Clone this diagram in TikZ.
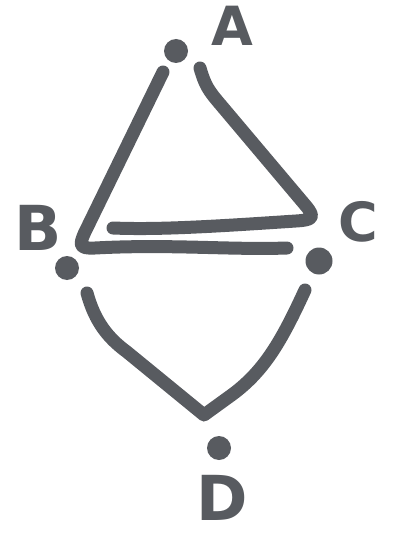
\documentclass[tikz,border=0pt]{standalone}
\usepackage{fontspec}
\setsansfont{DejaVu Sans}
\definecolor{ink}{RGB}{88,91,96}
\tikzstyle{pen} = [draw=ink, line width=13pt, line cap=round, line join=round]
\tikzstyle{blob} = [circle, fill=ink, inner sep=0pt, minimum size=24pt]
\tikzstyle{letter} = [text=ink, inner sep=0pt, font=\fontsize{54}{54}\selectfont\sffamily\bfseries]
\begin{document}
\begin{tikzpicture}[x=1pt, y=-1pt]
\useasboundingbox (0,0) rectangle (393,540);
%punten
\node[blob] (dotA) at (176,51) {};
\node[blob] (dotB) at (67,268) {};
\node[blob, minimum size=27pt] (dotC) at (319,261) {};
\node[blob] (dotD) at (219,448) {};
%letters
\node[letter] (labA) at (232,26) {A};
\node[letter, font=\fontsize{62}{62}\selectfont\sffamily\bfseries] (labB) at (38,228) {B};
\node[letter] (labC) at (358,222) {C};
\node[letter, font=\fontsize{62}{62}\selectfont\sffamily\bfseries] (labD) at (222,498) {D};
%begin driehoek
\coordinate (ab1) at (163,72);
\coordinate (ab2) at (287,248);
\coordinate (ac1) at (200,68);
\coordinate (ac2) at (113,228);
\draw[pen] (ab1) -- (84,234) .. controls (80,244) and (78,249) .. (95,248)
    .. controls (170,244) and (230,250) .. (ab2);
\draw[pen] (ac1) .. controls (205,85) and (208,90) .. (220,104)
    -- (306,206) .. controls (316,218) and (312,220) .. (296,221)
    .. controls (220,226) and (160,230) .. (ac2);
%end driehoek
%begin onderkant
\coordinate (bd1) at (87,293);
\coordinate (cd1) at (305,290);
\coordinate (top) at (204,415);
\draw[pen] (bd1) .. controls (95,322) and (108,338) .. (127,352)
    -- (top) -- (233,394) .. controls (265,370) and (282,340) .. (cd1);
%end onderkant
\end{tikzpicture}
\end{document}
